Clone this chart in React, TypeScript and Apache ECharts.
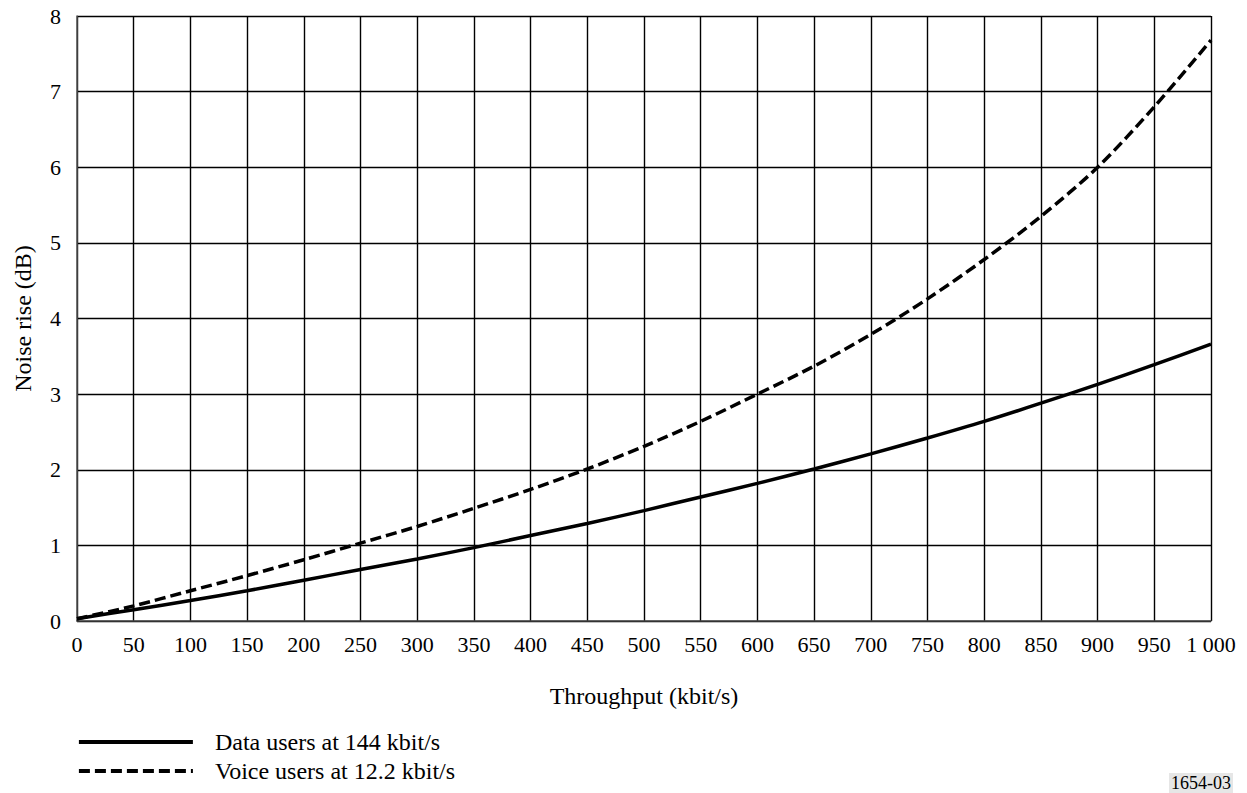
import React, { useEffect, useRef } from "react";
import * as echarts from "echarts";

const throughput = [0, 50, 100, 150, 200, 250, 300, 350, 400, 450, 500, 550, 600, 650, 700, 750, 800, 850, 900, 950, 1000];
const dataUsers = [0.03, 0.15, 0.27, 0.4, 0.54, 0.68, 0.82, 0.97, 1.13, 1.29, 1.46, 1.64, 1.82, 2.01, 2.21, 2.42, 2.64, 2.88, 3.13, 3.39, 3.66];
const voiceUsers = [0.03, 0.2, 0.4, 0.6, 0.81, 1.03, 1.25, 1.49, 1.74, 2.01, 2.31, 2.64, 3.0, 3.37, 3.79, 4.26, 4.78, 5.35, 6.0, 6.8, 7.68];
const seriesNames = ["Data users at 144 kbit/s", "Voice users at 12.2 kbit/s"];
const xAxisTitle = "Throughput (kbit/s)";
const yAxisTitle = "Noise rise (dB)";
const figureId = "1654-03";

const FONT = "Liberation Serif";

export default function App() {
  const ref = useRef<HTMLDivElement>(null);
  useEffect(() => {
    if (!ref.current) return;
    const chart = echarts.init(ref.current, undefined, { renderer: "svg" });
    const pair = (ys: number[]) => throughput.map((x, i) => [x, ys[i]]);
    chart.setOption({
      animation: false,
      backgroundColor: "#ffffff",
      textStyle: { fontFamily: FONT, color: "#000" },
      grid: { left: 77, right: 36, top: 16, bottom: 172 },
      legend: {
        orient: "vertical",
        left: 72,
        top: 725,
        itemWidth: 114,
        itemHeight: 24,
        itemGap: 5,
        itemStyle: { opacity: 0 },
        lineStyle: { width: 3.8 },
        textStyle: { fontFamily: FONT, fontSize: 24, color: "#000", lineHeight: 24, padding: [0, 0, 0, 17] },
        data: seriesNames,
      },
      xAxis: {
        type: "value",
        min: 0,
        max: 1000,
        interval: 50,
        name: xAxisTitle,
        nameLocation: "middle",
        nameGap: 63,
        nameTextStyle: { fontFamily: FONT, fontSize: 24, color: "#000" },
        axisLine: { show: true, lineStyle: { color: "#444", width: 1.5 } },
        axisTick: { show: false },
        axisLabel: {
          fontFamily: FONT,
          fontSize: 22,
          color: "#000",
          margin: 12,
          formatter: (v: number) => (v === 1000 ? "1 000" : String(v)),
        },
        splitLine: { show: true, lineStyle: { color: "#000", width: 1.4 } },
      },
      yAxis: {
        type: "value",
        min: 0,
        max: 8,
        interval: 1,
        name: yAxisTitle,
        nameLocation: "middle",
        nameGap: 42,
        nameTextStyle: { fontFamily: FONT, fontSize: 24, color: "#000" },
        axisLine: { show: true, lineStyle: { color: "#555", width: 1.5 } },
        axisTick: { show: false },
        axisLabel: { fontFamily: FONT, fontSize: 22, color: "#000", margin: 16 },
        splitLine: { show: true, lineStyle: { color: "#000", width: 1.4 } },
      },
      series: [
        {
          name: seriesNames[0],
          type: "line",
          data: pair(dataUsers),
          smooth: 0.3,
          symbol: "none",
          lineStyle: { color: "#000", width: 3.5, type: "solid" },
          itemStyle: { color: "#000" },
        },
        {
          name: seriesNames[1],
          type: "line",
          data: pair(voiceUsers),
          smooth: 0.3,
          symbol: "none",
          lineStyle: { color: "#000", width: 3.5, type: [11, 5] },
          itemStyle: { color: "#000" },
        },
      ],
      graphic: [
        {
          type: "text",
          right: 14,
          top: 773,
          style: {
            text: figureId,
            fontFamily: FONT,
            fontSize: 18,
            fill: "#000",
            backgroundColor: "#e6e6e6",
            padding: [1, 2],
          },
        },
      ],
    });
    return () => chart.dispose();
  }, []);
  return <div ref={ref} style={{ position: "absolute", left: 0, top: 0, width: 1247, height: 793 }} />;
}
